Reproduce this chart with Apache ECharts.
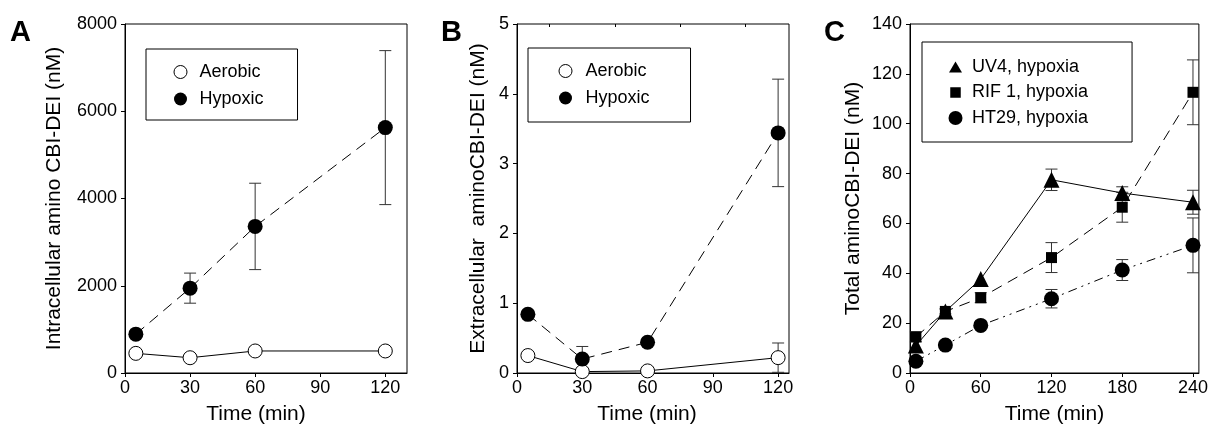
<!DOCTYPE html>
<html><head><meta charset="utf-8">
<script src="https://cdn.jsdelivr.net/npm/echarts@6/dist/echarts.min.js"></script>
<style>html,body{margin:0;padding:0;background:#fff}#c{width:1211px;height:430px}</style>
</head><body><div id="c"></div>
<script>
// ---- data ----
const timeAB = [5, 30, 60, 120];
const timeC = [5, 30, 60, 120, 180, 240];
const ticksAB = [0, 30, 60, 90, 120];
const ticksC = [0, 60, 120, 180, 240];
const intraAerobic = [450, 350, 505, 505];
const intraHypoxic = [890, 1945, 3360, 5625];
const intraHypoxicErr = [0, 345, 990, 1765];
const extraAerobic = [0.25, 0.02, 0.03, 0.22];
const extraAerobicErr = [0, 0, 0, 0.21];
const extraHypoxic = [0.84, 0.20, 0.44, 3.44];
const extraHypoxicErr = [0, 0.18, 0, 0.77];
const uv4 = [11, 24.7, 37.7, 77.5, 72.2, 68.5];
const uv4Err = [0, 0, 0, 4.3, 2.5, 4.8];
const rif1 = [14.5, 24.7, 30.2, 46.3, 66.5, 112.6];
const rif1Err = [2, 1, 2, 6, 6, 13];
const ht29 = [4.7, 11.2, 19.1, 29.8, 41.3, 51.2];
const ht29Err = [0, 0, 0, 3.7, 4.2, 11];

const FONT = '"Liberation Sans", Arial, sans-serif';
const HOLLOW = {color: '#fff', borderColor: '#000', borderWidth: 1};
const FILLED = {color: '#000', borderColor: '#000', borderWidth: 0};
// legend icons (bounding box = legend item box so they are not stretched)
const ICON_CIRC_A = 'path://M0,0M28,14M7.5,7a6.5,6.5 0 1,0 13,0a6.5,6.5 0 1,0 -13,0z';
const ICON_CIRC_B = 'path://M0,0M30,14M8.5,7a6.5,6.5 0 1,0 13,0a6.5,6.5 0 1,0 -13,0z';
const ICON_TRI_C = 'path://M0,0M23,16M5,13.5L11.5,2.5L18,13.5z';
const ICON_SQ_C = 'path://M0,0M23,16M6.25,2.75h10.5v10.5h-10.5z';
const ICON_CIRC_C = 'path://M0,0M23,16M4.5,8a7,7 0 1,0 14,0a7,7 0 1,0 -14,0z';

function lineSeries(name, xs, ys, axis, symbol, size, itemStyle, dash) {
  return {
    type: 'line', name, xAxisIndex: axis, yAxisIndex: axis,
    data: xs.map((x, i) => [x, ys[i]]),
    symbol, symbolSize: size, showAllSymbol: true,
    itemStyle, lineStyle: {color: '#000', width: 1, type: dash},
    z: 3, animation: false, silent: true
  };
}
function errBars(xs, ys, errs, axis) {
  const data = [];
  xs.forEach((x, i) => { if (errs[i] > 0) data.push([x, ys[i] - errs[i], ys[i] + errs[i]]); });
  return {
    type: 'custom', xAxisIndex: axis, yAxisIndex: axis, data, z: 1, silent: true,
    encode: {x: 0, y: [1, 2]}, animation: false,
    renderItem(params, api) {
      const x = api.value(0);
      const lo = api.coord([x, api.value(1)]);
      const hi = api.coord([x, api.value(2)]);
      const w = 6, st = {stroke: '#333', lineWidth: 1};
      return {type: 'group', children: [
        {type: 'line', shape: {x1: lo[0], y1: lo[1], x2: hi[0], y2: hi[1]}, style: st},
        {type: 'line', shape: {x1: lo[0] - w, y1: lo[1], x2: lo[0] + w, y2: lo[1]}, style: st},
        {type: 'line', shape: {x1: hi[0] - w, y1: hi[1], x2: hi[0] + w, y2: hi[1]}, style: st}
      ]};
    }
  };
}
function xAxis(grid, max, interval, ticks, nameShift) {
  return {
    type: 'value', gridIndex: grid, min: 0, max, interval,
    axisLine: {lineStyle: {color: '#000', width: 1}},
    axisTick: {length: 4, customValues: ticks, lineStyle: {color: '#000'}},
    axisLabel: {customValues: ticks, fontSize: 18, color: '#000', fontFamily: FONT, margin: 6,
      formatter: v => (ticks.indexOf(v) >= 0 ? String(v) : '')},
    splitLine: {show: false},
    name: 'Time (min)', nameLocation: 'middle', nameGap: 31,
    nameTextStyle: {fontSize: 21, color: '#000', fontFamily: FONT, padding: [0, nameShift, 0, 0]}
  };
}
function yAxis(grid, max, interval, name, gap) {
  return {
    type: 'value', gridIndex: grid, min: 0, max, interval,
    axisLine: {show: true, lineStyle: {color: '#000', width: 1}},
    axisTick: {show: true, length: 4, lineStyle: {color: '#000'}},
    axisLabel: {fontSize: 18, color: '#000', fontFamily: FONT, margin: 8, formatter: v => String(v)},
    splitLine: {show: false},
    name, nameLocation: 'middle', nameGap: gap,
    nameTextStyle: {fontSize: 21, color: '#000', fontFamily: FONT}
  };
}
function legend(left, top, pad, itemW, itemH, gap, items) {
  return {
    left, top, orient: 'vertical', padding: pad, itemWidth: itemW, itemHeight: itemH, itemGap: gap,
    borderColor: '#000', borderWidth: 1, selectedMode: false, symbolKeepAspect: true,
    textStyle: {fontSize: 18, color: '#000', fontFamily: FONT},
    data: items
  };
}

const chart = echarts.init(document.getElementById('c'), null, {renderer: 'canvas'});
chart.setOption({
  animation: false,
  backgroundColor: '#fff',
  textStyle: {fontFamily: FONT},
  grid: [
    {left: 125, top: 24, width: 282, height: 349, show: true, borderColor: '#000', borderWidth: 1},
    {left: 517, top: 24, width: 272, height: 349, show: true, borderColor: '#000', borderWidth: 1},
    {left: 910, top: 24, width: 291, height: 349, show: true, borderColor: '#000', borderWidth: 1}
  ],
  xAxis: [
    xAxis(0, 130, 30, ticksAB, 20),
    xAxis(1, 125, 30, ticksAB, 12),
    xAxis(2, 245, 60, ticksC, 0),
    {type: 'value', gridIndex: 1, position: 'top', min: 0, max: 125, interval: 15,
     axisLine: {show: false}, axisLabel: {show: false}, splitLine: {show: false},
     axisTick: {inside: true, length: 3, customValues: [15, 45, 75, 105], lineStyle: {color: '#000'}}}
  ],
  yAxis: [
    yAxis(0, 8000, 2000, 'Intracellular amino CBI-DEI (nM)', 60),
    yAxis(1, 5, 1, 'Extracellular  aminoCBI-DEI (nM)', 28),
    yAxis(2, 140, 20, 'Total aminoCBI-DEI (nM)', 46)
  ],
  legend: [
    legend(146, 49, [14, 34, 12, 20], 28, 14, 9, [
      {name: 'Aerobic', icon: ICON_CIRC_A, itemStyle: HOLLOW},
      {name: 'Hypoxic', icon: ICON_CIRC_A, itemStyle: FILLED}
    ]),
    legend(528, 48, [14, 41, 15, 22], 30, 14, 9, [
      {name: 'Aerobic', icon: ICON_CIRC_B, itemStyle: HOLLOW},
      {name: 'Hypoxic', icon: ICON_CIRC_B, itemStyle: FILLED}
    ]),
    legend(922, 42, [16, 44, 15, 22], 23, 16, 7.5, [
      {name: 'UV4, hypoxia', icon: ICON_TRI_C, itemStyle: FILLED},
      {name: 'RIF 1, hypoxia', icon: ICON_SQ_C, itemStyle: FILLED},
      {name: 'HT29, hypoxia', icon: ICON_CIRC_C, itemStyle: FILLED}
    ])
  ],
  graphic: [
    {type: 'text', left: 10, top: 18, style: {text: 'A', font: 'bold 29px ' + FONT, fill: '#000'}},
    {type: 'text', left: 441, top: 18, style: {text: 'B', font: 'bold 29px ' + FONT, fill: '#000'}},
    {type: 'text', left: 824, top: 18, style: {text: 'C', font: 'bold 29px ' + FONT, fill: '#000'}}
  ],
  series: [
    errBars(timeAB, intraHypoxic, intraHypoxicErr, 0),
    lineSeries('Aerobic', timeAB, intraAerobic, 0, 'circle', 14, HOLLOW, 'solid'),
    lineSeries('Hypoxic', timeAB, intraHypoxic, 0, 'circle', 15, FILLED, [11, 7]),
    errBars(timeAB, extraAerobic, extraAerobicErr, 1),
    errBars(timeAB, extraHypoxic, extraHypoxicErr, 1),
    lineSeries('Aerobic', timeAB, extraAerobic, 1, 'circle', 14, HOLLOW, 'solid'),
    lineSeries('Hypoxic', timeAB, extraHypoxic, 1, 'circle', 15, FILLED, [11, 7]),
    errBars(timeC, uv4, uv4Err, 2),
    errBars(timeC, rif1, rif1Err, 2),
    errBars(timeC, ht29, ht29Err, 2),
    lineSeries('HT29, hypoxia', timeC, ht29, 2, 'circle', 15, FILLED, [9, 5, 2, 5, 2, 5]),
    lineSeries('RIF 1, hypoxia', timeC, rif1, 2, 'rect', 11, FILLED, [11, 7]),
    lineSeries('UV4, hypoxia', timeC, uv4, 2, 'triangle', 16, FILLED, 'solid')
  ]
});
</script>
</body></html>
